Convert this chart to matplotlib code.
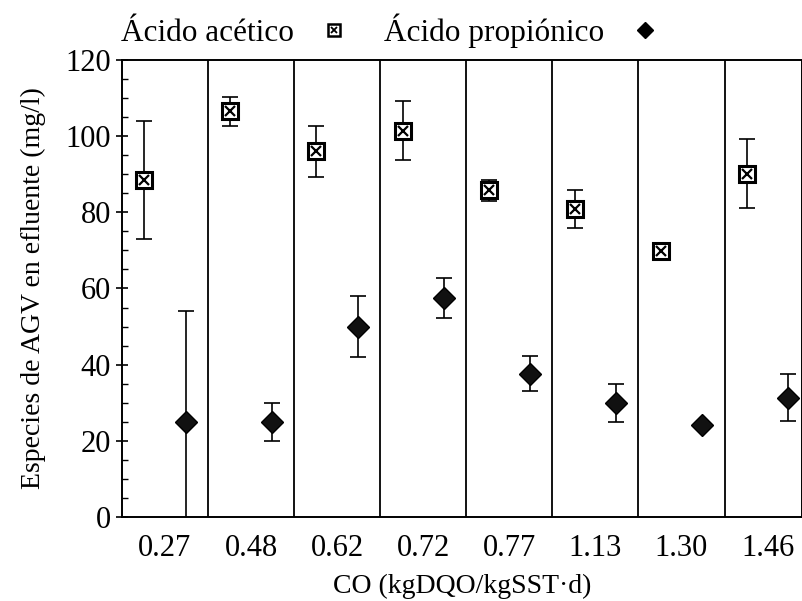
import numpy as np
import matplotlib.pyplot as plt
from matplotlib.lines import Line2D
from matplotlib.legend_handler import HandlerTuple
from matplotlib.ticker import MultipleLocator

plt.rcParams['font.family'] = ['Liberation Serif', 'DejaVu Serif']

# datos
co_labels = ['0.27', '0.48', '0.62', '0.72', '0.77', '1.13', '1.30', '1.46']
acetico = [88.5, 106.5, 96, 101.5, 85.8, 81, 69.8, 90.2]
acetico_err = [15.5, 3.8, 6.7, 7.7, 2.8, 5.0, 1.6, 9.0]
propionico = [25, 24.8, 50, 57.5, 37.6, 29.8, 24.1, 31.3]
propionico_err = [29, 5.0, 8.0, 5.3, 4.6, 5.0, 0.0, 6.2]

n = len(co_labels)
idx = np.arange(n)
x_ac = idx + 0.26
x_pr = idx + 0.74

fig = plt.figure(figsize=(8.02, 6.01), dpi=100)
ax = fig.add_axes([0.152, 0.14, 0.848, 0.76])

# separadores verticales
for i in range(1, n):
    ax.axvline(i, color='black', lw=1.3, zorder=1)

ax.errorbar(x_ac, acetico, yerr=acetico_err, fmt='none', ecolor='black',
            elinewidth=1.2, capsize=6, capthick=1.2, zorder=2)
ax.errorbar(x_pr, propionico, yerr=propionico_err, fmt='none', ecolor='black',
            elinewidth=1.2, capsize=6, capthick=1.2, zorder=2)

ax.plot(x_ac, acetico, 's', ms=11, mfc='white', mec='black', mew=2.2,
        ls='none', zorder=3)
ax.plot(x_ac, acetico, 'x', ms=7, mec='black', mew=1.6, ls='none', zorder=4)
ax.plot(x_pr, propionico, 'D', ms=11.5, mfc='#111111', mec='black',
        ls='none', zorder=3)

ax.set_xlim(0, 7.9)
ax.set_ylim(0, 120)
ax.yaxis.set_major_locator(MultipleLocator(20))
ax.yaxis.set_minor_locator(MultipleLocator(5))
ax.set_xticks(idx + 0.5)
ax.set_xticklabels(co_labels)
ax.tick_params(axis='y', which='major', direction='inout', length=9,
               width=1.2, labelsize=22)
ax.tick_params(axis='y', which='minor', direction='in', length=4, width=1)
ax.tick_params(axis='x', length=0, pad=12, labelsize=22)
for s in ax.spines.values():
    s.set_linewidth(1.4)

ax.set_xlabel('CO (kgDQO/kgSST·d)', fontsize=20, labelpad=8)
ax.set_ylabel('Especies de AGV en efluente (mg/l)', fontsize=20, labelpad=14)

h_ac = (Line2D([], [], marker='s', ms=8, mfc='white', mec='black', mew=1.8, ls='none'),
        Line2D([], [], marker='x', ms=5, mec='black', mew=1.3, ls='none'))
h_pr = Line2D([], [], marker='D', ms=8, mfc='black', mec='black', ls='none')
ax.legend([h_ac, h_pr], ['Ácido acético', 'Ácido propiónico'],
          handler_map={tuple: HandlerTuple(ndivide=1, pad=0)},
          ncol=2, markerfirst=False, frameon=False, fontsize=22.5,
          loc='lower left', bbox_to_anchor=(-0.02, 1.0), borderaxespad=0,
          handlelength=1.2, handletextpad=0.7, columnspacing=1.0)

fig.savefig('out.png', dpi=100)
